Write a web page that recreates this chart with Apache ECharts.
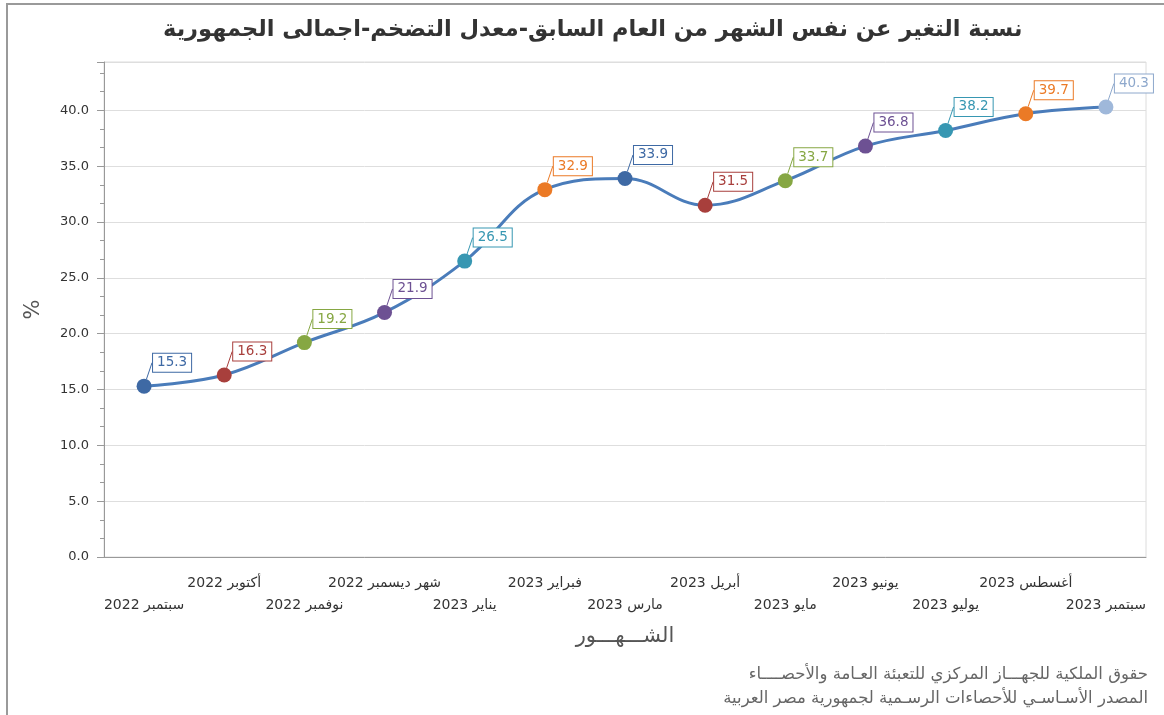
<!DOCTYPE html>
<html>
<head>
<meta charset="utf-8">
<script src="https://cdn.jsdelivr.net/npm/echarts@6/dist/echarts.min.js"></script>
<style>
  html, body { margin: 0; padding: 0; background: #fff; }
  #chart { width: 1164px; height: 715px; }
</style>
</head>
<body>
<div id="chart"></div>
<script>
// الشهور
const months = ['سبتمبر 2022', 'أكتوبر 2022', 'نوفمبر 2022', 'شهر ديسمبر 2022', 'يناير 2023', 'فبراير 2023',
    'مارس 2023', 'أبريل 2023', 'مايو 2023', 'يونيو 2023', 'يوليو 2023', 'أغسطس 2023', 'سبتمبر 2023'];
// معدل التضخم %
const inflation = [15.3, 16.3, 19.2, 21.9, 26.5, 32.9, 33.9, 31.5, 33.7, 36.8, 38.2, 39.7, 40.3];
const yTicks = [0, 5, 10, 15, 20, 25, 30, 35, 40];

const pointColors = ['#3e69a4', '#a83f3c', '#86a743', '#6d5193', '#3797b2', '#eb7a26',
    '#3e69a4', '#a83f3c', '#86a743', '#6d5193', '#3797b2', '#eb7a26', '#9fb8da'];
const labelColors = pointColors.slice(0, 12).concat(['#8ea8cc']);

const FONT = 'DejaVu Sans';
// 5 فواصل صغيرة لكل شهر
const minorSlots = months.flatMap(() => ['', '', '', '', '']);

const chart = echarts.init(document.getElementById('chart'));

const footStyle = { fontFamily: FONT, fontSize: 16.5, fill: '#666', align: 'right' };

const option = {
    backgroundColor: '#ffffff',
    animation: false,
    title: {
        text: 'نسبة التغير عن نفس الشهر من العام السابق-معدل التضخم-اجمالى الجمهورية',
        left: 158,
        top: 14,
        textStyle: { fontFamily: FONT, fontSize: 22.5, fontWeight: 'bold', color: '#333' }
    },
    grid: {
        left: 104, right: 18, top: 62, bottom: 158,
        show: true, borderColor: '#dcdcdc', borderWidth: 1
    },
    xAxis: [{
        type: 'category',
        data: months,
        boundaryGap: true,
        name: 'الشـــهـــور',
        nameLocation: 'middle',
        nameGap: 69,
        nameTextStyle: { fontFamily: FONT, fontSize: 21, color: '#555' },
        axisLine: { lineStyle: { color: '#999', width: 1 } },
        axisTick: { alignWithLabel: true, interval: 0, length: 8, lineStyle: { color: '#999' } },
        axisLabel: {
            interval: 0,
            margin: 15,
            fontFamily: FONT, fontSize: 14, color: '#333', lineHeight: 22,
            formatter: (v, i) => (i % 2 === 0 ? '\n' + v : v)
        },
        splitLine: { show: false }
    }, {
        type: 'category',
        data: minorSlots,
        position: 'bottom',
        boundaryGap: true,
        axisLine: { show: false },
        axisTick: { alignWithLabel: true, interval: 0, length: 4, lineStyle: { color: '#999' } },
        axisLabel: { show: false },
        splitLine: { show: false }
    }],
    yAxis: {
        type: 'value',
        min: yTicks[0],
        max: 44.33,
        interval: yTicks[1] - yTicks[0],
        name: '%',
        nameLocation: 'middle',
        nameGap: 60,
        nameTextStyle: { fontFamily: FONT, fontSize: 21, color: '#555' },
        axisLine: { show: true, lineStyle: { color: '#999', width: 1 } },
        axisTick: { show: true, length: 7, lineStyle: { color: '#999' } },
        minorTick: { show: true, splitNumber: 3, length: 4, lineStyle: { color: '#999' } },
        axisLabel: {
            showMaxLabel: false,
            margin: 15,
            fontFamily: FONT, fontSize: 13, color: '#333',
            formatter: v => v.toFixed(1)
        },
        splitLine: { lineStyle: { color: '#dedede', width: 1 } }
    },
    series: [{
        type: 'line',
        smooth: 0.4,
        symbol: 'circle',
        symbolSize: 15,
        lineStyle: { color: '#4a7cba', width: 3 },
        labelLayout: { dx: 28, dy: -2 },
        labelLine: { show: true, lineStyle: { width: 1 } },
        data: inflation.map((v, i) => ({
            value: v,
            itemStyle: { color: pointColors[i] },
            label: {
                show: true,
                position: 'top',
                distance: 5,
                formatter: '{c}',
                fontFamily: FONT,
                fontSize: 13.5,
                color: labelColors[i],
                backgroundColor: '#fff',
                borderColor: labelColors[i],
                borderWidth: 1,
                padding: [2, 4, 2, 4]
            },
            labelLine: { lineStyle: { color: labelColors[i] } }
        }))
    }],
    graphic: [{
        type: 'polyline',
        shape: { points: [[7, 715], [7, 4], [1164, 4]] },
        style: { stroke: '#9a9a9a', lineWidth: 2, fill: null },
        silent: true
    }, {
        type: 'text',
        right: 16,
        top: 666,
        style: Object.assign({ text: 'حقوق الملكية للجهـــاز المركزي للتعبئة العـامة والأحصــــاء' }, footStyle),
        silent: true
    }, {
        type: 'text',
        right: 16,
        top: 690,
        style: Object.assign({ text: 'المصدر الأسـاسـي للأحصاءات الرسـمية لجمهورية مصر العربية' }, footStyle),
        silent: true
    }]
};

chart.setOption(option);
</script>
</body>
</html>
